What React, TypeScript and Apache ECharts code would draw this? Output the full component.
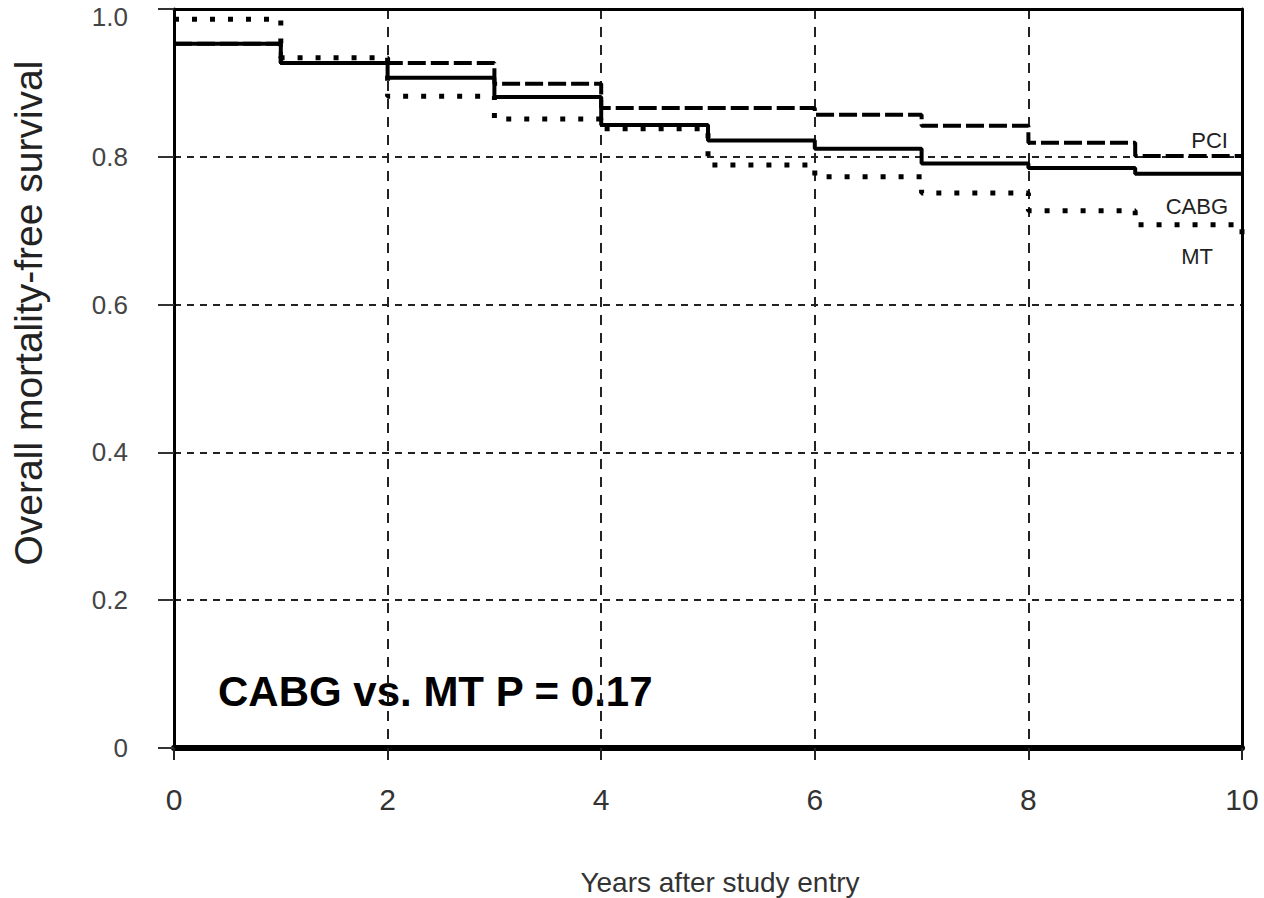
import React, { useEffect, useRef } from "react";
import * as echarts from "echarts";

const YEARS = [0, 1, 2, 3, 4, 5, 6, 7, 8, 9, 10];
const PCI = [0.953, 0.927, 0.927, 0.899, 0.866, 0.866, 0.857, 0.842, 0.819, 0.801, 0.801];
const CABG = [0.953, 0.927, 0.907, 0.881, 0.843, 0.822, 0.811, 0.791, 0.785, 0.777, 0.777];
const MT = [0.986, 0.934, 0.882, 0.851, 0.838, 0.789, 0.773, 0.751, 0.727, 0.708, 0.684];
const X_TICKS = [0, 2, 4, 6, 8, 10];
const Y_TICKS = [0, 0.2, 0.4, 0.6, 0.8, 1.0];
const CURVE_LABELS = ["PCI", "CABG", "MT"];
const ANNOTATION = "CABG vs. MT P = 0.17";
const X_TITLE = "Years after study entry";
const Y_TITLE = "Overall mortality-free survival";

const FONT = "'Liberation Sans', Arial, Helvetica, sans-serif";

function pairs(vals: number[]) {
  return YEARS.map((t, i) => [t, vals[i]]);
}

export default function App() {
  const ref = useRef<HTMLDivElement>(null);
  useEffect(() => {
    if (!ref.current) return;
    const chart = echarts.init(ref.current, undefined, { renderer: "svg" });
    const lineBase = { type: "line", step: "end", showSymbol: false, symbol: "none", silent: true };
    chart.setOption({
      animation: false,
      backgroundColor: "#ffffff",
      grid: { left: 174, right: 22, top: 9, bottom: 150, containLabel: false },
      xAxis: [
        {
          type: "value",
          min: X_TICKS[0],
          max: X_TICKS[X_TICKS.length - 1],
          interval: 2,
          axisLine: { show: true, onZero: false, lineStyle: { color: "#000", width: 6 } },
          axisTick: { show: true, inside: false, length: 12, lineStyle: { color: "#222", width: 2 } },
          axisLabel: { show: true, margin: 36, fontSize: 30, color: "#333", fontFamily: FONT },
          splitLine: { show: true, lineStyle: { color: "#222", width: 2, type: [10, 8] } },
        },
        {
          type: "value",
          position: "top",
          min: 0,
          max: 10,
          axisLine: { show: true, onZero: false, lineStyle: { color: "#000", width: 3 } },
          axisTick: { show: false },
          axisLabel: { show: false },
          splitLine: { show: false },
        },
      ],
      yAxis: [
        {
          type: "value",
          min: Y_TICKS[0],
          max: Y_TICKS[Y_TICKS.length - 1],
          interval: 0.2,
          axisLine: { show: true, onZero: false, lineStyle: { color: "#000", width: 3 } },
          axisTick: { show: true, inside: false, length: 16, lineStyle: { color: "#333", width: 2 } },
          axisLabel: {
            show: true,
            margin: 46,
            fontSize: 26,
            color: "#444",
            fontFamily: FONT,
            formatter: (v: number) => (v === 0 ? "0" : v >= 1 ? "{top|1.0}" : v.toFixed(1)),
            rich: {
              top: { fontSize: 26, color: "#444", fontFamily: FONT, padding: [16, 0, 0, 0] },
            },
          },
          splitLine: { show: true, lineStyle: { color: "#222", width: 2, type: [7, 6] } },
        },
        {
          type: "value",
          position: "right",
          min: 0,
          max: 1,
          axisLine: { show: true, onZero: false, lineStyle: { color: "#000", width: 3 } },
          axisTick: { show: false },
          axisLabel: { show: false },
          splitLine: { show: false },
        },
      ],
      series: [
        {
          ...lineBase,
          name: "MT",
          data: pairs(MT),
          lineStyle: { color: "#000", width: 5, type: [5, 13] },
          z: 2,
        },
        {
          ...lineBase,
          name: "PCI",
          data: pairs(PCI),
          lineStyle: { color: "#000", width: 4, type: [18, 5] },
          z: 3,
        },
        {
          ...lineBase,
          name: "CABG",
          data: pairs(CABG),
          lineStyle: { color: "#000", width: 4, type: "solid" },
          z: 4,
        },
      ],
      graphic: [
        {
          type: "text",
          x: 28,
          y: 313,
          rotation: Math.PI / 2,
          style: { text: Y_TITLE, fontSize: 39, fontFamily: FONT, fill: "#222", align: "center", verticalAlign: "middle" },
        },
        {
          type: "text",
          x: 720,
          y: 882,
          style: { text: X_TITLE, fontSize: 28, fontFamily: FONT, fill: "#333", align: "center", verticalAlign: "middle" },
        },
        {
          type: "text",
          x: 218,
          y: 691,
          style: { text: ANNOTATION, fontSize: 42, fontWeight: "bold", fontFamily: FONT, fill: "#000", align: "left", verticalAlign: "middle" },
        },
        {
          type: "text",
          x: 1228,
          y: 140,
          style: { text: CURVE_LABELS[0], fontSize: 22, fontFamily: FONT, fill: "#222", align: "right", verticalAlign: "middle" },
        },
        {
          type: "text",
          x: 1228,
          y: 206,
          style: { text: CURVE_LABELS[1], fontSize: 22, fontFamily: FONT, fill: "#222", align: "right", verticalAlign: "middle" },
        },
        {
          type: "text",
          x: 1213,
          y: 256,
          style: { text: CURVE_LABELS[2], fontSize: 22, fontFamily: FONT, fill: "#222", align: "right", verticalAlign: "middle" },
        },
      ],
    });
    return () => chart.dispose();
  }, []);
  return (
    <div
      ref={ref}
      style={{ position: "fixed", left: 0, top: 0, width: 1264, height: 898, background: "#fff" }}
    />
  );
}
